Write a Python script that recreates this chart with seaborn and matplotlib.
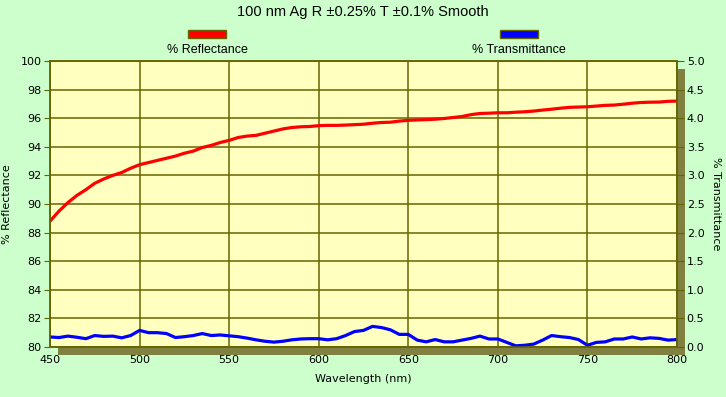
import matplotlib
matplotlib.use("Agg")
import matplotlib.pyplot as plt
from matplotlib.patches import Rectangle
import seaborn as sns
import pandas as pd

# wavelengths every 5 nm
wavelength = list(range(450, 801, 5))

reflectance = [
    88.8, 89.5, 90.1, 90.6, 91.0, 91.45, 91.75, 92.0, 92.2, 92.5,
    92.75, 92.9, 93.05, 93.2, 93.35, 93.55, 93.7, 93.95, 94.1, 94.3,
    94.45, 94.65, 94.75, 94.8, 94.95, 95.1, 95.25, 95.35, 95.4, 95.42,
    95.48, 95.5, 95.5, 95.52, 95.55, 95.58, 95.65, 95.7, 95.72, 95.8,
    95.85, 95.88, 95.9, 95.93, 95.98, 96.05, 96.12, 96.25, 96.33, 96.35,
    96.38, 96.38, 96.42, 96.45, 96.5, 96.57, 96.63, 96.7, 96.76, 96.78,
    96.8, 96.85, 96.9, 96.92, 96.98, 97.05, 97.1, 97.12, 97.13, 97.18,
    97.2,
]

transmittance = [
    0.175, 0.165, 0.19, 0.17, 0.145, 0.2, 0.185, 0.19, 0.16, 0.2,
    0.29, 0.25, 0.25, 0.235, 0.165, 0.18, 0.2, 0.235, 0.2, 0.21,
    0.195, 0.18, 0.155, 0.125, 0.1, 0.085, 0.1, 0.125, 0.14, 0.145,
    0.145, 0.125, 0.145, 0.2, 0.27, 0.29, 0.36, 0.34, 0.3, 0.22,
    0.22, 0.12, 0.09, 0.13, 0.09, 0.09, 0.12, 0.15, 0.19, 0.14,
    0.14, 0.08, 0.02, 0.03, 0.05, 0.12, 0.2, 0.18, 0.165, 0.13,
    0.03, 0.08, 0.09, 0.14, 0.14, 0.175, 0.14, 0.16, 0.15, 0.12,
    0.13,
]

df = pd.DataFrame({"wl": wavelength, "R": reflectance, "T": transmittance})

bg = "#ccffcc"
plot_bg = "#ffffc0"
grid_col = "#666600"
shadow_col = "#808040"

sns.set_style("white")
plt.rcParams["font.family"] = ["DejaVu Sans"]
plt.rcParams["text.color"] = "black"
plt.rcParams["axes.labelcolor"] = "black"

fig = plt.figure(figsize=(7.26, 3.97), dpi=100, facecolor=bg)
pos = [0.0689, 0.126, 0.8636, 0.7203]

# drop shadow behind plot area (its own axes, added first so it sits below)
sh = fig.add_axes([pos[0] + 8 / 726, pos[1] - 8 / 397, pos[2], pos[3]])
sh.set_facecolor(shadow_col)
sh.set_xticks([])
sh.set_yticks([])
for s in sh.spines.values():
    s.set_visible(False)

ax = fig.add_axes(pos)
ax.set_facecolor(plot_bg)
sns.lineplot(data=df, x="wl", y="R", ax=ax, color="#ff0000", linewidth=2.3, zorder=5)
ax.set_xlim(450, 800)
ax.set_ylim(80, 100)
ax.set_xticks(range(450, 801, 50))
ax.set_yticks(range(80, 101, 2))
ax.grid(True, color=grid_col, linewidth=1.1)
ax.set_axisbelow(True)
for s in ax.spines.values():
    s.set_color(grid_col)
    s.set_linewidth(1.1)
ax.tick_params(axis="both", labelsize=8, colors="black", length=4, color=grid_col, pad=2)
ax.set_xlabel("Wavelength (nm)", fontsize=8, labelpad=6)
ax.set_ylabel("% Reflectance", fontsize=8, labelpad=6)

ax2 = ax.twinx()
sns.lineplot(data=df, x="wl", y="T", ax=ax2, color="#0000ff", linewidth=2.3)
ax2.set_ylim(0, 5)
ax2.set_yticks([i * 0.5 for i in range(11)])
ax2.set_yticklabels([f"{i * 0.5:.1f}" for i in range(11)])
ax2.tick_params(axis="y", labelsize=8, colors="black", length=5, color=grid_col, pad=2)
ax2.set_ylabel("% Transmittance", fontsize=8, rotation=270, labelpad=12)
for s in ax2.spines.values():
    s.set_color(grid_col)
    s.set_linewidth(1.1)

fig.text(0.5, 1 - 12 / 397, "100 nm Ag R \u00b10.25% T \u00b10.1% Smooth",
         ha="center", va="center", fontsize=10.5, color="black",
         family=["Liberation Sans", "DejaVu Sans"])

# legend boxes
for cx, col, lab in [(207, "#ff0000", "% Reflectance"), (519, "#0000ff", "% Transmittance")]:
    fig.patches.append(Rectangle(((cx - 19) / 726, 1 - 38 / 397), 38 / 726, 8 / 397,
                                 transform=fig.transFigure, facecolor=col,
                                 edgecolor="#666600", linewidth=1))
    fig.text(cx / 726, 1 - 50 / 397, lab, ha="center", va="center", fontsize=9,
             color="black", family=["Liberation Sans", "DejaVu Sans"])

fig.savefig("out.png", dpi=100, facecolor=bg)
